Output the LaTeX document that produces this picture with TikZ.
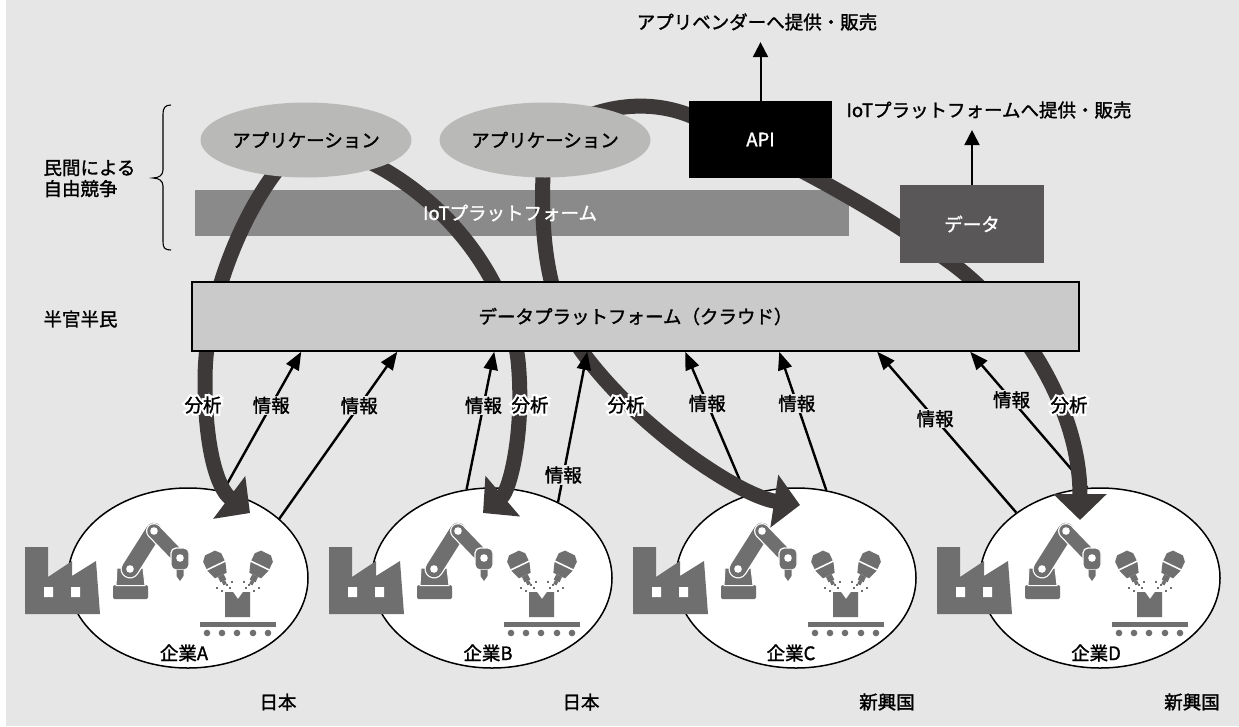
\documentclass[tikz,border=0pt]{standalone}
\usepackage{fontspec}
\setmainfont{Noto Sans CJK JP}[FakeBold=1.5]
\newfontfamily\halofont{Noto Sans CJK JP}[FakeBold=25]
\usetikzlibrary{arrows.meta,shapes.geometric,calc}
\pgfdeclarelayer{back}
\pgfdeclarelayer{info}
\pgfdeclarelayer{flows}
\pgfsetlayers{back,info,flows,main}

\definecolor{bgc}{HTML}{E6E6E6}
\definecolor{appc}{HTML}{B9BAB8}
\definecolor{iotc}{HTML}{8A8A8A}
\definecolor{datac}{HTML}{595758}
\definecolor{cloudc}{HTML}{C9CAC9}
\definecolor{flowc}{HTML}{3D3939}
\definecolor{iconc}{HTML}{6F6F6F}

\tikzset{
  % spray nozzle, drawn pointing down from the centre of its cap
  nozzle/.pic={
    \fill[iconc] (-5.5,0) -- (5.5,0) -- (10,5) -- (10,13) -- (-10,13) -- (-10,5) -- cycle;
    \fill[iconc] (-10,14.8) -- (10,14.8) -- (6.5,25) -- (-6.5,25) -- cycle;
    \fill[iconc] (-3.2,25) rectangle (3.2,31);
    \fill[iconc] (-1.8,31) rectangle (1.8,35);
  },
  % factory, robot arm and painting cell of one company
  plant/.pic={
    % factory
    \fill[iconc] (-163,36) -- (-163,-31) -- (-140,-31) -- (-140,-1) -- (-116,-17) -- (-116,-2)
      -- (-92,-17) -- (-88,36) -- cycle;
    \fill[white] (-144,9) rectangle (-135,19) (-117,9) rectangle (-108,19);
    % robot arm
    \fill[iconc, rounded corners=1.5pt] (-75,7) rectangle (-40,21);
    \filldraw[fill=iconc, draw=white, line width=1pt] (-72,7.5) -- (-71,-10) -- (-45,-10) -- (-43,7.5) -- cycle;
    \draw[white, line width=19pt, line cap=round] (-58,-9) -- (-34,-47);
    \draw[iconc, line width=16.5pt, line cap=round] (-58,-9) -- (-34,-47);
    \draw[white, line width=16pt, line cap=round] (-34,-47) -- (-9,-21);
    \draw[iconc, line width=13.5pt, line cap=round] (-34,-47) -- (-9,-21);
    \filldraw[fill=iconc, draw=white, line width=1.2pt, rounded corners=5pt] (-17,-30) rectangle (1,-8);
    \fill[iconc] (-11.5,-8) -- (-4.5,-8) -- (-4.5,-2) -- (-8,3) -- (-11.5,-2) -- cycle;
    \fill[white] (-58,-9) circle (3.8) (-34,-47) circle (3.8) (-8,-20) circle (3.8);
    % painting cell
    \pic[rotate=25.6] at (22,-25) {nozzle};
    \pic[rotate=-25.6] at (78,-25) {nozzle};
    \foreach \sx/\sy in {29/10,34/13,39/7,44/4,42/10,71/10,66/13,61/7,56/4,58/10}
      {\fill[iconc] (\sx-1.4,\sy-1.4) rectangle (\sx+1.4,\sy+1.4);}
    \fill[iconc] (37,14) -- (45,14) -- (50,21) -- (55,14) -- (62,14) -- (62,39) -- (37,39) -- cycle;
    \fill[iconc] (12,44) rectangle (88,49);
    \foreach \dx in {19,34,49,65,80} {\fill[iconc] (\dx,55) circle (3.3);}
  },
}

% label with a white halo, set over the thick flow arrows
\newcommand{\haloLabel}[3]{%
  \node[text=white] at #2 {\halofont #3};
  \node (#1) at #2 {#3};
}

\begin{document}
\begin{tikzpicture}[x=1pt, y=-1pt, font=\fontsize{18.5pt}{21pt}\selectfont,
  company/.style={ellipse, draw, line width=1.5pt, fill=white,
    minimum width=240pt, minimum height=180pt, inner sep=0pt},
  app/.style={ellipse, fill=appc, minimum width=211pt, minimum height=75pt, inner sep=0pt},
  flow/.style={line width=15pt, draw=flowc, -{Triangle[width=52pt,length=26pt]}},
  info/.style={line width=2.4pt, draw=black, -{Triangle[width=14pt,length=18pt]}},
  tag/.style={fill=bgc, inner sep=1.2pt},
  up/.style={line width=2pt, -{Triangle[width=15pt,length=15pt]}, shorten >=8pt},
]
\useasboundingbox (0,0) rectangle (1239,726);

% ---------- back layer: page, IoT bar, companies ----------
\begin{pgfonlayer}{back}
  \fill[white] (0,0) rectangle (1239,726);
  \fill[bgc] (6,0) rectangle (1239,726);
  \node[fill=iotc, minimum width=654pt, minimum height=46pt, inner sep=0pt] (iot) at (522,213) {};

  \node[company] (compA) at (188,578) {};
  \node[company] (compB) at (492,578) {};
  \node[company] (compC) at (796,578) {};
  \node[company] (compD) at (1100,578) {};
  \pic at (compA.center) {plant};
  \pic at (compB.center) {plant};
  \pic at (compC.center) {plant};
  \pic at (compD.center) {plant};
  \node (lblA) at (184,653) {企業A};
  \node (lblB) at (488,653) {企業B};
  \node (lblC) at (791,653) {企業C};
  \node (lblD) at (1096,653) {企業D};
\end{pgfonlayer}

% ---------- main layer: platforms and services ----------
\node[fill=cloudc, draw=black, line width=1.5pt, minimum width=887pt, minimum height=69pt, inner sep=0pt]
  (dp) at (635.5,316.5) {データプラットフォーム（クラウド）};
\node[app] (app1) at (306,140) {アプリケーション};
\node[app] (app2) at (545,140) {アプリケーション};
\node[fill=black, text=white, minimum width=143pt, minimum height=77pt, inner sep=0pt] (api) at (760.5,139.5) {API};
\node[fill=datac, text=white, minimum width=144pt, minimum height=78pt, inner sep=0pt] (datab) at (972,224) {データ};
\node[text=white] (iottext) at (510,213) {IoTプラットフォーム};

\node (vend) at (757,22) {アプリベンダーへ提供・販売};
\node (iotsale) at (989,110) {IoTプラットフォームへ提供・販売};
\node[anchor=west, align=left] (priv) at (40,178.5) {民間による\\自由競争};
\node[anchor=west] (semi) at (40,319) {半官半民};

\node (jp1) at (278,702) {日本};
\node (jp2) at (581,702) {日本};
\node (em1) at (887,702) {新興国};
\node (em2) at (1192,702) {新興国};

% ---------- information flowing up to the data platform ----------
\begin{pgfonlayer}{info}
  \draw[info] (compA.68) -- node[tag, pos=0.616] {情報} ($(dp.south west)+(110,0)$);
  \draw[info] (compA.33) -- node[tag, pos=0.677] {情報} ($(dp.south west)+(206,0)$);
  \draw[info] (compB.106.5) -- node[tag, pos=0.61] {情報} ($(dp.south west)+(303,0)$);
  \draw[info] (compC.121.6) -- node[tag, pos=0.64] {情報} ($(dp.south west)+(494,0)$);
  \draw[info] (compC.71.8) -- node[tag, pos=0.626] {情報} ($(dp.south west)+(588,0)$);
  \draw[info] (compD.142.5) -- node[tag, pos=0.584] {情報} ($(dp.south west)+(686,0)$);
  \draw[info] (compD.98.4) -- node[tag, pos=0.647] {情報} ($(dp.south west)+(779,0)$);
\end{pgfonlayer}

% ---------- analysis flowing back down to the companies ----------
\coordinate (aTip) at (250,513);
\coordinate (bTip) at (483,513);
\coordinate (cTip) at (800,505);
\coordinate (dTip) at (1080,520);
\begin{pgfonlayer}{flows}
  \draw[flow] (app1.center) .. controls (255,180) and (205,290) .. (205,380)
    .. controls (205,450) and (218,489) .. (aTip);
  \draw[flow] (app1.center) .. controls (410,160) and (505,255) .. (518,360)
    .. controls (525,430) and (510,490) .. (bTip);
  \draw[flow] (app2.center) .. controls (538,230) and (545,300) .. (583,353)
    .. controls (640,430) and (740,496) .. (cTip);
  \draw[flow] (app2.center) .. controls (590,105) and (650,95) .. (700,120)
    .. controls (760,150) and (850,190) .. (950,262)
    .. controls (1010,305) and (1080,400) .. (dTip);
\end{pgfonlayer}

\draw[info] (compB.49) -- node[tag, pos=0.18] {情報} ($(dp.south west)+(396,0)$);

\haloLabel{an1}{(203,405)}{分析}
\haloLabel{an2}{(530,405)}{分析}
\haloLabel{an3}{(626,405)}{分析}
\haloLabel{an4}{(1069,405)}{分析}

% ---------- sales arrows ----------
\draw[up] (api.north) -- (api.north |- vend.south);
\draw[up] (datab.north) -- (datab.north |- iotsale.south);

% ---------- brace for the private layer ----------
\draw[line width=1.1pt] (171,105) .. controls (165,105) and (163,108) .. (163,114) -- (163,170)
  .. controls (163,175) and (159,178) .. (153,178)
  .. controls (159,178) and (163,181) .. (163,186) -- (163,242)
  .. controls (163,248) and (165,250) .. (171,250);
\end{tikzpicture}
\end{document}
